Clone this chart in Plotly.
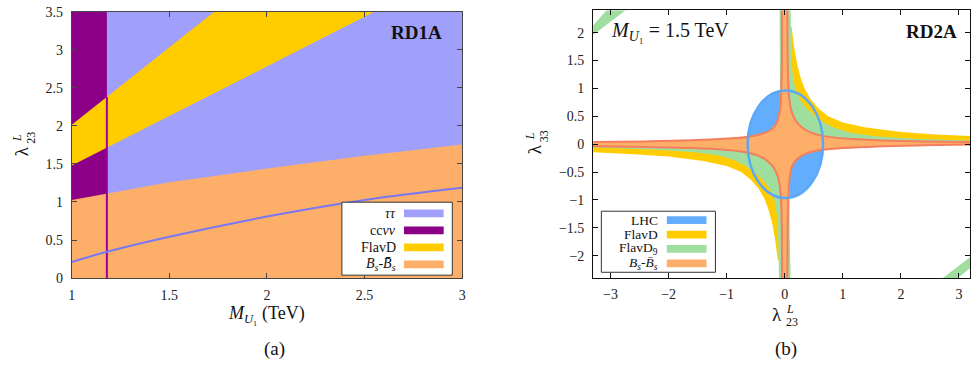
import plotly.graph_objects as go

W, H = 974, 376
SERIF = "Liberation Serif, Times New Roman, serif"

# ---------------- Panel (a) data ----------------
M_range = [1.0, 3.0]
lam_range = [0.0, 3.5]
ccnn_M_max = 1.18
# FlavD band edges (straight lines, read at endpoints)
flav_lo_M = [1.0, 2.55]
flav_lo_lam = [1.48, 3.5]
flav_hi_M = [1.0, 1.73]
flav_hi_lam = [2.015, 3.5]
# Bs-Bsbar upper boundary
bs_M = [1.0, 1.18, 1.5, 2.0, 2.5, 3.0]
bs_lam = [1.026, 1.11, 1.258, 1.439, 1.607, 1.754]
# blue curve
curve_M = [1.0, 1.18, 1.5, 2.0, 2.5, 3.0]
curve_lam = [0.21, 0.345, 0.543, 0.808, 1.026, 1.186]
ccnn_line_top = 2.38

# ---------------- Panel (b) data ----------------
LHC_c = (0.01, 0.0)
LHC_ax = (0.65, 0.965)

bs_q1_x = [0.045, 0.05, 0.06, 0.08, 0.12, 0.19, 0.3, 0.47, 0.7, 1.05, 1.6, 2.4, 3.3]
bs_q1_y = [2.4, 1.6, 1.1, 0.8, 0.58, 0.42, 0.3, 0.2, 0.14, 0.1, 0.07, 0.05, 0.04]
bs_q4_x = [3.3, 2.4, 1.6, 1.0, 0.65, 0.45, 0.3, 0.21, 0.14, 0.1, 0.075, 0.06, 0.05, 0.045]
bs_q4_y = [-0.005, -0.02, -0.04, -0.07, -0.1, -0.14, -0.2, -0.27, -0.36, -0.5, -0.7, -1.0, -1.5, -2.4]
bs_q3_x = [-0.045, -0.05, -0.06, -0.08, -0.12, -0.19, -0.3, -0.47, -0.7, -1.05, -1.6, -2.4, -3.3]
bs_q3_y = [-2.4, -1.6, -1.1, -0.8, -0.58, -0.42, -0.3, -0.2, -0.14, -0.1, -0.07, -0.05, -0.035]
bs_q2_x = [-3.3, -2.4, -1.6, -1.0, -0.65, -0.45, -0.3, -0.21, -0.14, -0.1, -0.07, -0.06, -0.05, -0.05]
bs_q2_y = [0.04, 0.05, 0.07, 0.1, 0.13, 0.17, 0.22, 0.28, 0.38, 0.52, 0.72, 1.0, 1.5, 2.4]

g_q1_x = [0.1, 0.11, 0.13, 0.18, 0.26, 0.36, 0.5, 0.66, 0.86, 1.15, 1.6, 2.3, 3.3]
g_q1_y = [2.4, 1.8, 1.3, 1.0, 0.8, 0.66, 0.52, 0.4, 0.29, 0.2, 0.14, 0.095, 0.065]
g_q4_x = [3.3, 1.6, 0.65, 0.3, 0.14, 0.1, 0.08, 0.08, 0.085, 0.1]
g_q4_y = [-0.005, -0.04, -0.1, -0.2, -0.36, -0.5, -0.75, -1.0, -1.5, -2.4]
g_q3_x = [-0.1, -0.11, -0.13, -0.18, -0.26, -0.36, -0.5, -0.66, -0.86, -1.15, -1.6, -2.3, -3.3]
g_q3_y = [-2.4, -1.8, -1.3, -1.0, -0.8, -0.66, -0.52, -0.4, -0.29, -0.2, -0.14, -0.095, -0.06]
g_q2_x = [-3.3, -1.6, -0.65, -0.3, -0.14, -0.1, -0.08, -0.08, -0.085, -0.09]
g_q2_y = [0.045, 0.075, 0.13, 0.22, 0.38, 0.52, 0.75, 1.0, 1.5, 2.4]

y_q1_x = [0.12, 0.16, 0.21, 0.28, 0.35, 0.45, 0.58, 0.75, 1.0, 1.4, 2.0, 2.6, 3.3]
y_q1_y = [2.1, 1.75, 1.45, 1.17, 0.98, 0.8, 0.64, 0.5, 0.39, 0.3, 0.22, 0.175, 0.14]
y_q3_x = [-0.12, -0.16, -0.21, -0.28, -0.35, -0.45, -0.58, -0.75, -1.0, -1.4, -2.0, -2.6, -3.3]
y_q3_y = [-2.08, -1.75, -1.45, -1.17, -0.98, -0.8, -0.64, -0.5, -0.39, -0.3, -0.22, -0.18, -0.145]

band_tl_x = [-3.3, -3.07, -2.74, -3.3]
band_tl_y = [2.13, 2.4, 2.4, 1.96]
band_br_x = [2.72, 2.98, 3.3, 3.3]
band_br_y = [-2.4, -2.4, -2.13, -1.94]

C_TAU = "#a0a0fa"
C_CC = "#8b0086"
C_FLAV = "#ffcc00"
C_BS = "#fdae68"
C_LHC = "#62aefc"
C_G = "#a0dea0"
C_BSLINE = "#f47e5e"

fig = go.Figure()

def poly(xs, ys, color, ax="x", ay="y"):
    fig.add_trace(go.Scatter(x=xs, y=ys, fill="toself", fillcolor=color, mode="lines",
                             line=dict(width=0, color=color), hoverinfo="skip",
                             showlegend=False, xaxis=ax, yaxis=ay))

# ---- panel (a)
poly([M_range[0], M_range[1], M_range[1], M_range[0]],
     [lam_range[0], lam_range[0], lam_range[1], lam_range[1]], C_TAU)
poly([M_range[0], ccnn_M_max, ccnn_M_max, M_range[0]],
     [lam_range[0], lam_range[0], lam_range[1], lam_range[1]], C_CC)
poly(flav_lo_M + flav_hi_M[::-1], flav_lo_lam + flav_hi_lam[::-1], C_FLAV)
poly(bs_M + bs_M[::-1], bs_lam + [lam_range[0]] * len(bs_M), C_BS)
fig.add_trace(go.Scatter(x=[ccnn_M_max, ccnn_M_max], y=[lam_range[0], ccnn_line_top], mode="lines",
                         line=dict(color="#9a00a0", width=2), hoverinfo="skip", showlegend=False))
fig.add_trace(go.Scatter(x=curve_M, y=curve_lam, mode="lines", line=dict(color="#7878f4", width=2, shape="spline"),
                         hoverinfo="skip", showlegend=False))

# ---- panel (b)
poly([0.0] + y_q1_x + [y_q1_x[-1], 0.0], [y_q1_y[0]] + y_q1_y + [0.0, 0.0], C_FLAV, "x2", "y2")
poly([0.0] + y_q3_x + [y_q3_x[-1], 0.0], [y_q3_y[0]] + y_q3_y + [0.0, 0.0], C_FLAV, "x2", "y2")
poly(g_q1_x + g_q4_x + g_q3_x + g_q2_x, g_q1_y + g_q4_y + g_q3_y + g_q2_y, C_G, "x2", "y2")
poly(band_tl_x, band_tl_y, C_G, "x2", "y2")
poly(band_br_x, band_br_y, C_G, "x2", "y2")
poly(bs_q1_x + bs_q4_x + bs_q3_x + bs_q2_x, bs_q1_y + bs_q4_y + bs_q3_y + bs_q2_y, C_BS, "x2", "y2")
for cx, cy in [(bs_q1_x, bs_q1_y), (bs_q2_x, bs_q2_y), (bs_q3_x, bs_q3_y), (bs_q4_x, bs_q4_y)]:
    fig.add_trace(go.Scatter(x=cx, y=cy, mode="lines", line=dict(color=C_BSLINE, width=2, shape="spline"),
                             hoverinfo="skip", showlegend=False, xaxis="x2", yaxis="y2"))

shapes = [
    dict(type="circle", xref="x2", yref="y2", layer="below",
         x0=LHC_c[0] - LHC_ax[0], x1=LHC_c[0] + LHC_ax[0],
         y0=LHC_c[1] - LHC_ax[1], y1=LHC_c[1] + LHC_ax[1],
         fillcolor=C_LHC, line=dict(width=0)),
    dict(type="circle", xref="x2", yref="y2", layer="above",
         x0=LHC_c[0] - LHC_ax[0], x1=LHC_c[0] + LHC_ax[0],
         y0=LHC_c[1] - LHC_ax[1], y1=LHC_c[1] + LHC_ax[1],
         line=dict(width=2.5, color="#5aa8f6")),
]

def px(X):
    return X / W

def py(Y):
    return 1 - Y / H

annotations = []

def txt(X, Y, s, size=15, xanchor="center", angle=0, color="#111", bold=False):
    if bold:
        s = "<b>" + s + "</b>"
    annotations.append(dict(x=px(X), y=py(Y), xref="paper", yref="paper", text=s, showarrow=False,
                            xanchor=xanchor, yanchor="middle", textangle=angle, borderpad=0,
                            font=dict(family=SERIF, size=size, color=color)))

# legends (drawn manually)
def legend(box, labels, colors, rows, lab_right, sw, fs):
    shapes.append(dict(type="rect", xref="paper", yref="paper", x0=px(box[0]), x1=px(box[1]),
                       y0=py(box[3]), y1=py(box[2]), fillcolor="white", line=dict(color="#333", width=1),
                       layer="above"))
    for lab, col, r in zip(labels, colors, rows):
        shapes.append(dict(type="rect", xref="paper", yref="paper", x0=px(sw[0]), x1=px(sw[1]),
                           y0=py(r + 4), y1=py(r - 4), fillcolor=col, line=dict(width=0), layer="above"))
        txt(lab_right, r, lab, size=fs, xanchor="right")

legend((340.7, 452, 203.3, 279.3),
       ["<i>ττ</i>", "cc<i>νν</i>", "FlavD", "<i>B</i><sub><i>s</i></sub>-<i>B̄</i><sub><i>s</i></sub>"],
       [C_TAU, C_CC, C_FLAV, C_BS], [215, 232.7, 250.3, 268], 396, (403.3, 443.3), 14)
legend((602.3, 717.3, 212.7, 276.3),
       ["LHC", "FlavD", "FlavD<sub>9</sub>", "<i>B</i><sub><i>s</i></sub>-<i>B̄</i><sub><i>s</i></sub>"],
       [C_LHC, C_FLAV, C_G, C_BS], [222, 237, 252, 267], 660, (668.3, 708.3), 13.5)

txt(443, 27, "RD1A", size=19, xanchor="right", bold=True)
txt(962, 25, "RD2A", size=19, xanchor="right", bold=True)
txt(611, 25, "<i>M</i><sub><i>U</i>₁</sub> = 1.5 TeV", size=20, xanchor="left")
txt(265, 320, "<i>M</i><sub><i>U</i>₁</sub> (TeV)", size=18)
txt(273, 356, "(a)", size=19)
txt(788.5, 356, "(b)", size=19)
# axis titles: lambda with stacked superscript / subscript
txt(17.5, 150, "λ", size=19, angle=-90)
txt(12.5, 136, "<i>L</i>", size=12, angle=-90)
txt(26.5, 136, "23", size=12, angle=-90)
txt(535, 148.5, "λ", size=19, angle=-90)
txt(530.5, 134.5, "<i>L</i>", size=12, angle=-90)
txt(544.5, 134.5, "33", size=12, angle=-90)
txt(779, 320, "λ", size=19)
txt(792.5, 315, "<i>L</i>", size=12)
txt(795, 328, "23", size=12)

axis_common = dict(showgrid=False, zeroline=False, showline=True, mirror="allticks", ticks="inside",
                   ticklen=5, tickwidth=1, ticklabeloverflow="allow",
                   tickfont=dict(family=SERIF, size=14, color="#222"))

fig.update_layout(
    width=W, height=H, margin=dict(l=0, r=0, t=0, b=0),
    paper_bgcolor="white", plot_bgcolor="white", showlegend=False,
    xaxis=dict(domain=[68.3 / W, 462 / W], range=M_range, tickvals=[1, 1.5, 2, 2.5, 3],
               linecolor="#444", tickcolor="#444", anchor="y", ticklabelstandoff=4, **axis_common),
    yaxis=dict(domain=[1 - 282.3 / H, 1 - 5 / H], range=lam_range, tickvals=[0, 0.5, 1, 1.5, 2, 2.5, 3, 3.5],
               linecolor="#444", tickcolor="#444", anchor="x", ticklabelstandoff=5, **axis_common),
    xaxis2=dict(domain=[594 / W, 1.0], range=[-3.3, 3.19], tickvals=[-3, -2, -1, 0, 1, 2, 3],
                linecolor="#111", tickcolor="#111", anchor="y2", ticklabelstandoff=3, **axis_common),
    yaxis2=dict(domain=[1 - 282.3 / H, 1 - 3.5 / H], range=[-2.4, 2.4],
                tickvals=[-2, -1.5, -1, -0.5, 0, 0.5, 1, 1.5, 2],
                linecolor="#111", tickcolor="#111", anchor="x2", ticklabelstandoff=5, **axis_common),
    shapes=shapes, annotations=annotations,
)

fig.write_html("out.html", config={"displayModeBar": False, "staticPlot": True},
               post_script="document.body.style.margin='0px';document.body.style.overflow='hidden';")
